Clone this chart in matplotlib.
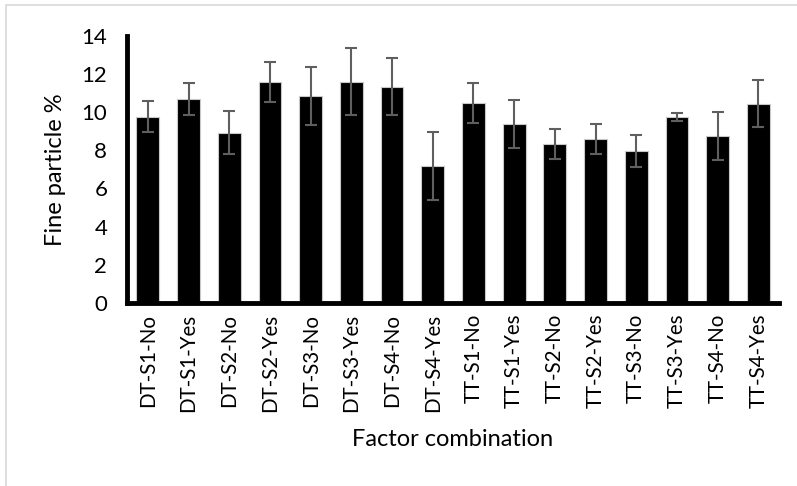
import matplotlib.pyplot as plt
import matplotlib.patches as mpatches
import numpy as np

# datos
labels = ['DT-S1-No', 'DT-S1-Yes', 'DT-S2-No', 'DT-S2-Yes',
          'DT-S3-No', 'DT-S3-Yes', 'DT-S4-No', 'DT-S4-Yes',
          'TT-S1-No', 'TT-S1-Yes', 'TT-S2-No', 'TT-S2-Yes',
          'TT-S3-No', 'TT-S3-Yes', 'TT-S4-No', 'TT-S4-Yes']
fine_pct = [9.77, 10.68, 8.93, 11.59, 10.84, 11.59, 11.33, 7.18,
            10.49, 9.37, 8.32, 8.60, 7.95, 9.77, 8.74, 10.45]
err = [0.80, 0.84, 1.14, 1.04, 1.51, 1.76, 1.50, 1.77,
       1.04, 1.26, 0.80, 0.80, 0.83, 0.21, 1.25, 1.24]
yticks = [0, 2, 4, 6, 8, 10, 12, 14]

plt.rcParams['font.family'] = ['Lato', 'DejaVu Sans']

fig = plt.figure(figsize=(7.97, 4.86), dpi=100)
ax = fig.add_axes([0.159, 0.377, 0.818, 0.549])

x = np.arange(len(labels))
ax.bar(x, fine_pct, width=0.56, color='black', edgecolor='#c8c8c8',
       linewidth=0.8, zorder=2)
ax.errorbar(x, fine_pct, yerr=err, fmt='none', ecolor='#5f5f5f',
            elinewidth=1.5, capsize=4, capthick=1.5, zorder=3)

ax.set_xlim(-0.52, len(labels) - 0.5)
ax.set_ylim(0, 14)
ax.set_yticks(yticks)
ax.set_xticks(x)
ax.set_xticklabels(labels, rotation=90, fontsize=14.8)
ax.tick_params(axis='y', length=0, pad=14, labelsize=16)
ax.tick_params(axis='x', length=0, pad=8)

for s in ['top', 'right']:
    ax.spines[s].set_visible(False)
for s in ['left', 'bottom']:
    ax.spines[s].set_linewidth(3.5)
    ax.spines[s].set_color('black')

ax.set_ylabel('Fine particle %', fontsize=17)
ax.set_xlabel('Factor combination', fontsize=17)
ax.yaxis.set_label_coords(-0.11, 0.5)
ax.xaxis.set_label_coords(0.5, -0.514)
ax.xaxis.label.set_va('center')
ax.yaxis.label.set_va('center')

# borde gris del area del grafico
fig.patches.append(mpatches.Rectangle((0.0075, -0.05), 1.1, 1.04,
                                      transform=fig.transFigure, fill=False,
                                      edgecolor='#d9d9d9', linewidth=1.2))

plt.savefig('out.png', dpi=100)
